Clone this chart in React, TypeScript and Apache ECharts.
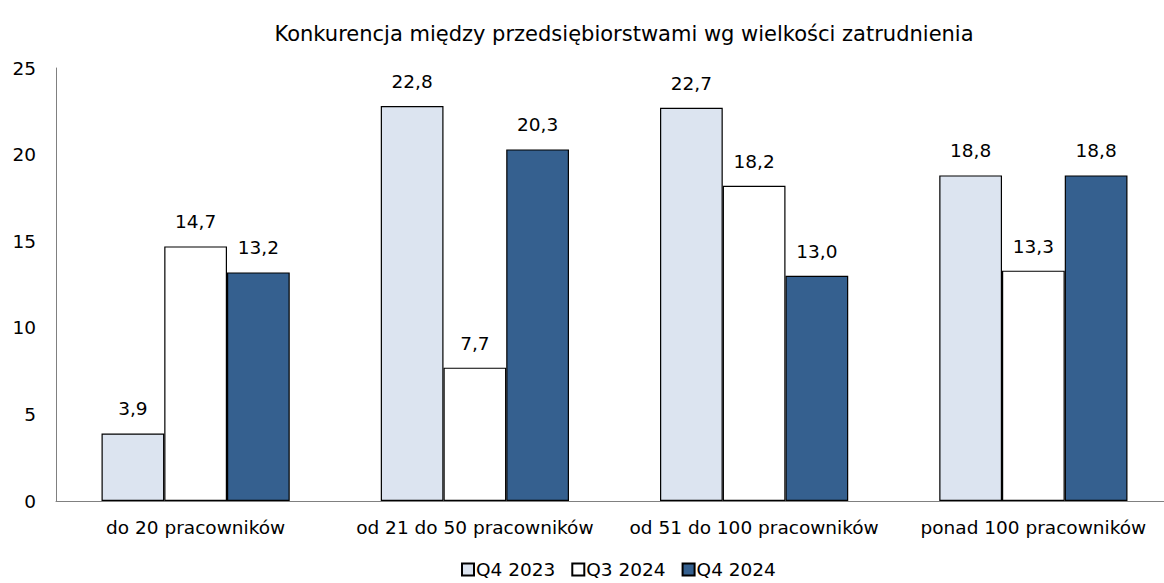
import React, { useEffect, useRef } from "react";
import * as echarts from "echarts";

const categories = ["do 20 pracowników", "od 21 do 50 pracowników", "od 51 do 100 pracowników", "ponad 100 pracowników"];
const q4_2023 = [3.9, 22.8, 22.7, 18.8];
const q3_2024 = [14.7, 7.7, 18.2, 13.3];
const q4_2024 = [13.2, 20.3, 13.0, 18.8];
const seriesNames = ["Q4 2023", "Q3 2024", "Q4 2024"];
const title = "Konkurencja między przedsiębiorstwami wg wielkości zatrudnienia";

const FONT = "DejaVu Sans";

export default function App() {
  const ref = useRef<HTMLDivElement>(null);
  useEffect(() => {
    if (!ref.current) return;
    const chart = echarts.init(ref.current, null, { renderer: "svg" });
    const fmt = (p: any) => Number(p.value).toFixed(1).replace(".", ",");
    const label = {
      show: true,
      position: "top" as const,
      distance: 15,
      color: "#000",
      fontFamily: FONT,
      fontSize: 18.5,
      formatter: fmt,
    };
    const colors = ["#DCE4F0", "#FFFFFF", "#35608F"];
    const datas = [q4_2023, q3_2024, q4_2024];
    chart.setOption({
      animation: false,
      title: {
        text: title,
        left: 619,
        textAlign: "center",
        top: 18,
        textStyle: { fontFamily: FONT, fontSize: 21, fontWeight: "normal", color: "#000" },
      },
      grid: { left: 56, right: 7, top: 68, bottom: 82, containLabel: false },
      legend: {
        bottom: -1,
        left: 456,
        itemWidth: 12,
        itemHeight: 12,
        itemGap: 16,
        icon: "rect",
        textStyle: { fontFamily: FONT, fontSize: 18.5, color: "#000", padding: [0, 0, 0, -3] },
        data: seriesNames,
      },
      xAxis: {
        type: "category",
        data: categories,
        axisLine: { lineStyle: { color: "#808080", width: 1 } },
        axisTick: { show: false },
        axisLabel: { fontFamily: FONT, fontSize: 18.5, color: "#000", margin: 17, interval: 0 },
      },
      yAxis: {
        type: "value",
        min: 0,
        max: 25,
        interval: 5,
        axisLine: { show: true, lineStyle: { color: "#808080", width: 1 } },
        axisTick: { show: false },
        splitLine: { show: false },
        axisLabel: { fontFamily: FONT, fontSize: 18.5, color: "#000", margin: 20, align: "right" },
      },
      series: seriesNames.map((name, i) => ({
        name,
        type: "bar",
        data: datas[i],
        barGap: "0%",
        barCategoryGap: "32.6%",
        itemStyle: { color: colors[i], borderColor: "#000", borderWidth: 1.2 },
        label,
      })),
    });
    return () => chart.dispose();
  }, []);
  return (
    <div style={{ position: "absolute", left: 0, top: 0, width: 1164, height: 583, overflow: "hidden" }}>
      <div ref={ref} style={{ position: "absolute", left: 0, top: 0, width: 1180, height: 583 }} />
    </div>
  );
}
